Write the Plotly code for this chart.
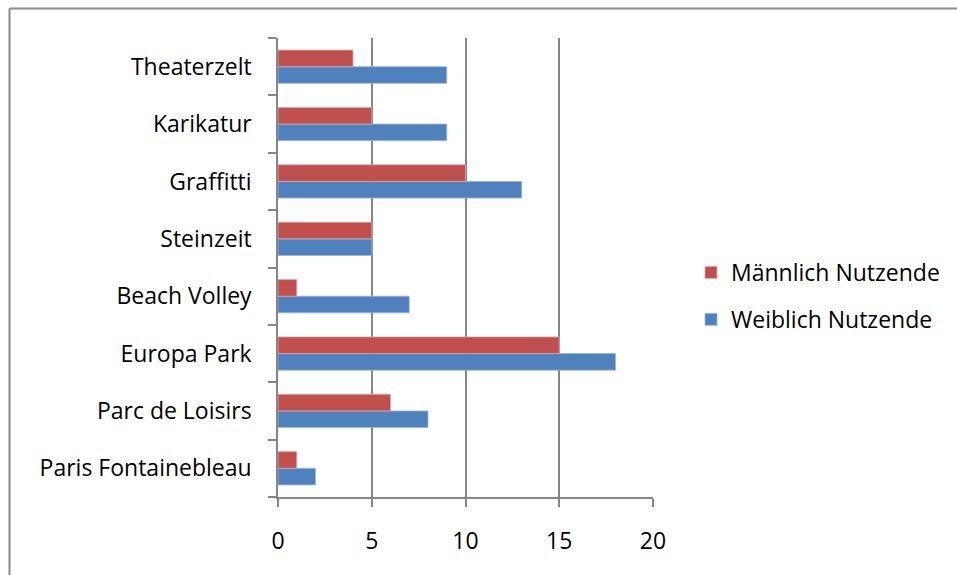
import plotly.graph_objects as go

categories = ["Paris Fontainebleau", "Parc de Loisirs", "Europa Park", "Beach Volley",
              "Steinzeit", "Graffitti", "Karikatur", "Theaterzelt"]
weiblich = [2, 8, 18, 7, 5, 13, 9, 9]
maennlich = [1, 6, 15, 1, 5, 10, 5, 4]
x_ticks = [0, 5, 10, 15, 20]

FONT = "Open Sans"
GRID = "#868686"

fig = go.Figure()
fig.add_trace(go.Bar(y=categories, x=weiblich, orientation="h", name="Weiblich Nutzende",
                     legendgroup="w", legendrank=2,
                     marker=dict(color="#4F81BD", line=dict(color="#9DB6DB", width=0.8))))
fig.add_trace(go.Bar(y=categories, x=maennlich, orientation="h", name="Männlich Nutzende",
                     legendgroup="m", legendrank=1,
                     marker=dict(color="#C0504D", line=dict(color="#E0A7A6", width=0.8))))

W, H = 957, 575
L, T = 278, 38
pw, ph = 375, 459
R = W - L - pw
B = H - T - ph

def px_x(px):
    return (px - L) / pw

def px_y(py):
    return (H - B - py) / ph

fig.update_layout(
    width=W, height=H,
    margin=dict(l=L, r=R, t=T, b=B, autoexpand=False),
    paper_bgcolor="white", plot_bgcolor="white",
    barmode="group", bargap=0.42, bargroupgap=0,
    font=dict(family=FONT, size=23, color="#000000"),
    showlegend=True,
    legend=dict(x=px_x(691), y=px_y(296), xanchor="left", yanchor="middle",
                traceorder="grouped", tracegroupgap=14,
                font=dict(family=FONT, size=23, color="#000000"),
                bgcolor="rgba(0,0,0,0)"),
    xaxis=dict(range=[0, 20], tickvals=x_ticks, ticktext=[str(v) for v in x_ticks],
               showgrid=True, gridcolor=GRID, gridwidth=1.5,
               showline=True, linecolor=GRID, linewidth=1.5,
               ticks="outside", ticklen=8, tickcolor=GRID, tickwidth=1.5,
               ticklabelstandoff=15, zeroline=False, fixedrange=True),
    yaxis=dict(categoryorder="array", categoryarray=categories,
               showline=True, linecolor=GRID, linewidth=1.5,
               ticks="outside", ticklen=8, tickcolor=GRID, tickwidth=1.5,
               tickson="boundaries", ticklabelstandoff=20,
               showgrid=False, zeroline=False, fixedrange=True),
    shapes=[
        dict(type="line", xref="paper", yref="paper",
             x0=px_x(9.5), x1=px_x(9.5), y0=px_y(8.5), y1=px_y(600),
             line=dict(color="#8a8a8a", width=2)),
        dict(type="line", xref="paper", yref="paper",
             x0=px_x(9.5), x1=px_x(980), y0=px_y(8.5), y1=px_y(8.5),
             line=dict(color="#8a8a8a", width=2)),
    ],
)

fig.write_html(
    "out.html",
    config={"displayModeBar": False},
    post_script="document.body.style.margin='0';document.body.style.overflow='hidden';"
                "document.documentElement.style.overflow='hidden';",
)
